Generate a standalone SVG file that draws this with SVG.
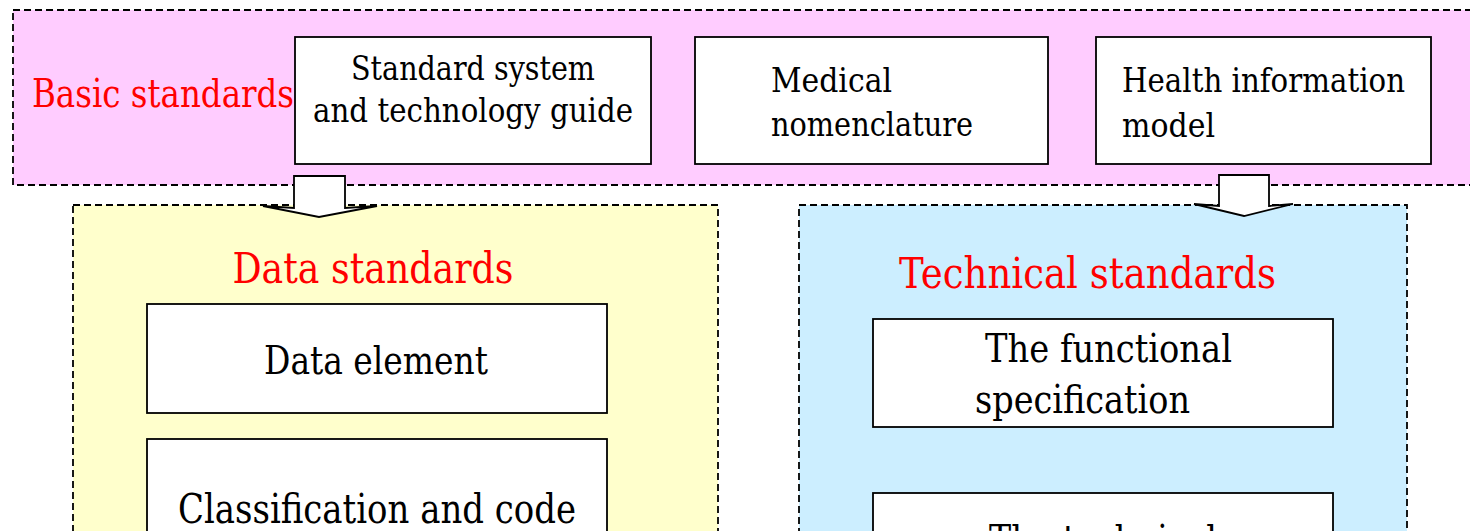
<svg xmlns="http://www.w3.org/2000/svg" width="1470" height="531" viewBox="0 0 1470 531">
<style>
.grp{stroke:#000;stroke-width:1.8;stroke-dasharray:7 4}
.box{fill:#fff;stroke:#000;stroke-width:1.8}
text{font-family:'DejaVu Serif','Liberation Serif',serif}
.t{fill:#000}
.red{fill:#ff0000}
.arrow{fill:#fff;stroke:#000;stroke-width:1.8;stroke-linejoin:miter}
</style>
<rect width="1470" height="531" fill="#fff"/>
<g id="basic">
<rect class="grp" x="13" y="10" width="1480" height="175" fill="#ffccff"/>
<text class="red" x="32" y="107" font-size="38.5" textLength="262" lengthAdjust="spacingAndGlyphs">Basic standards</text>
</g>
<g id="data">
<rect class="grp" x="73" y="205" width="645" height="360" fill="#ffffcc"/>
<text class="red" x="373" y="283" font-size="43.5" text-anchor="middle" textLength="281" lengthAdjust="spacingAndGlyphs">Data standards</text>
</g>
<g id="technical">
<rect class="grp" x="799" y="205" width="608" height="360" fill="#cceeff"/>
<text class="red" x="1087.5" y="288" font-size="43.5" text-anchor="middle" textLength="377" lengthAdjust="spacingAndGlyphs">Technical standards</text>
</g>
<g id="node-guide">
<rect class="box" x="295" y="37" width="356" height="127"/>
<text class="t" x="473" y="80" font-size="34" text-anchor="middle" textLength="244" lengthAdjust="spacingAndGlyphs">Standard system</text>
<text class="t" x="473" y="122" font-size="34" text-anchor="middle" textLength="320" lengthAdjust="spacingAndGlyphs">and technology guide</text>
</g>
<g id="node-nomenclature">
<rect class="box" x="695" y="37" width="353" height="127"/>
<text class="t" x="771" y="92" font-size="34" textLength="121" lengthAdjust="spacingAndGlyphs">Medical</text>
<text class="t" x="771" y="136" font-size="34" textLength="202" lengthAdjust="spacingAndGlyphs">nomenclature</text>
</g>
<g id="node-model">
<rect class="box" x="1096" y="37" width="335" height="127"/>
<text class="t" x="1122" y="92" font-size="34" textLength="283" lengthAdjust="spacingAndGlyphs">Health information</text>
<text class="t" x="1122" y="137" font-size="34" textLength="93" lengthAdjust="spacingAndGlyphs">model</text>
</g>
<g id="node-element">
<rect class="box" x="147" y="304" width="460" height="109"/>
<text class="t" x="376" y="374" font-size="38.5" text-anchor="middle" textLength="224" lengthAdjust="spacingAndGlyphs">Data element</text>
</g>
<g id="node-classification">
<rect class="box" x="147" y="439" width="460" height="120"/>
<text class="t" x="377" y="523" font-size="41" text-anchor="middle" textLength="398" lengthAdjust="spacingAndGlyphs">Classification and code</text>
</g>
<g id="node-functional">
<rect class="box" x="873" y="319" width="460" height="108"/>
<text class="t" x="985" y="362" font-size="39" textLength="247" lengthAdjust="spacingAndGlyphs">The functional</text>
<text class="t" x="975" y="413" font-size="39" textLength="215" lengthAdjust="spacingAndGlyphs">specification</text>
</g>
<g id="node-technical">
<rect class="box" x="873" y="493" width="460" height="80"/>
<text class="t" x="1103" y="553" font-size="38.5" text-anchor="middle" textLength="228" lengthAdjust="spacingAndGlyphs">The technical</text>
</g>
<g id="connectors">
<polygon class="arrow" points="294,176 345,176 345,208 377,206 319,217 263,206 294,208"/>
<polygon class="arrow" points="1219,175 1269,175 1269,206 1293,204 1244,216 1194,204 1219,206"/>
</g>
</svg>
